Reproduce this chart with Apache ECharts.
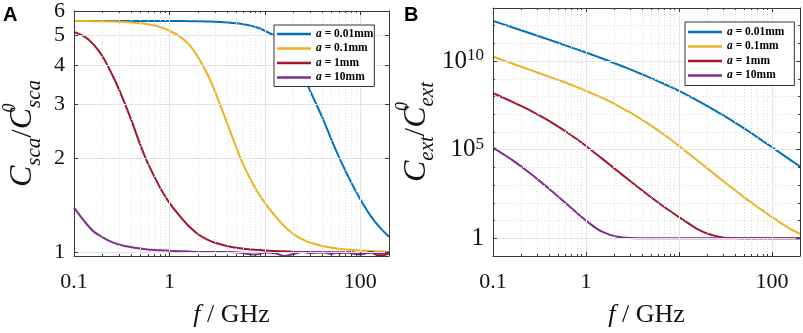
<!DOCTYPE html>
<html>
<head>
<meta charset="utf-8">
<script src="https://cdn.jsdelivr.net/npm/echarts@6/dist/echarts.min.js"></script>
<style>
  html, body { margin: 0; padding: 0; background: #fff; }
  #chart { width: 803px; height: 333px; }
</style>
</head>
<body>
<div id="chart"></div>
<script>
// frequencies (GHz), shared by every curve
const freq = [0.1, 0.13, 0.16, 0.2, 0.25, 0.3, 0.4, 0.5, 0.6, 0.8,
    1, 1.3, 1.6, 2, 2.5, 3, 4, 5, 6, 8,
    10, 13, 16, 20, 25, 30, 40, 50, 60, 80,
    100, 130, 160, 200];
const names = ["a = 0.01mm", "a = 0.1mm", "a = 1mm", "a = 10mm"];
const colors = ["#0072BD", "#EDB120", "#A2142F", "#7E2F8E"];

// panel A: Csca / C0sca
const scaBlue = [5.57, 5.57, 5.57, 5.57, 5.57, 5.57, 5.57, 5.57, 5.57, 5.57,
    5.57, 5.57, 5.56, 5.56, 5.55, 5.54, 5.51, 5.48, 5.44, 5.33,
    5.18, 4.95, 4.68, 4.25, 3.75, 3.3, 2.72, 2.3, 2.02, 1.68,
    1.48, 1.3, 1.2, 1.12];
const scaYellow = [5.57, 5.57, 5.56, 5.56, 5.55, 5.54, 5.51, 5.48, 5.44, 5.33,
    5.18, 4.95, 4.68, 4.25, 3.75, 3.3, 2.62, 2.18, 1.9, 1.6,
    1.44, 1.3, 1.21, 1.14, 1.095, 1.07, 1.045, 1.032, 1.024, 1.016,
    1.011, 1.007, 1.004, 1.0];
const scaRed = [5.13, 4.95, 4.68, 4.27, 3.75, 3.32, 2.66, 2.2, 1.92, 1.61,
    1.44, 1.3, 1.21, 1.14, 1.095, 1.07, 1.045, 1.032, 1.024, 1.016,
    1.011, 1.006, 1.004, 1.0, 1.0, 1.0, 0.995, 1.0, 0.99, 1.0,
    0.985, 0.995, 0.97, 0.99];
const scaPurple = [1.39, 1.25, 1.165, 1.115, 1.075, 1.055, 1.035, 1.025, 1.018, 1.012,
    1.008, 1.005, 1.003, 1.0, 1.0, 1.0, 1.0, 0.998, 0.99, 0.98,
    0.995, 0.99, 0.97, 0.985, 1.0, 0.99, 1.0, 0.985, 1.0, 0.99,
    0.98, 1.0, 0.985, 0.995];

// panel B: Cext / C0ext
const extBlue = [1.86e12, 1.19e12, 8.26e11, 5.58e11, 3.77e11, 2.72e11, 1.63e11, 1.09e11, 7.82e10, 4.61e10,
    3.05e10, 1.85e10, 1.24e10, 7.91e9, 5.0e9, 3.41e9, 1.83e9, 1.11e9, 7.26e8, 3.62e8,
    2.07e8, 1.03e8, 5.79e7, 3.03e7, 1.53e7, 8.65e6, 3.4e6, 1.61e6, 8.57e5, 3.08e5,
    1.38e5, 5.33e4, 2.52e4, 1.12e4];
const extYellow = [1.78e10, 1.1e10, 7.4e9, 4.9e9, 3.2e9, 2.3e9, 1.32e9, 8.7e8, 6.2e8, 3.4e8,
    2.1e8, 1.17e8, 7.1e7, 4.0e7, 2.1e7, 1.23e7, 4.9e6, 2.3e6, 1.2e6, 4.0e5,
    1.62e5, 5.5e4, 2.3e4, 9100, 3550, 1660, 510, 209, 102, 35,
    15.5, 6.3, 3.2, 1.78];
const extRed = [1.58e8, 8.5e7, 5.13e7, 2.95e7, 1.66e7, 1.0e7, 4.27e6, 2.04e6, 1.1e6, 3.89e5,
    1.62e5, 5.5e4, 2.34e4, 9120, 3550, 1660, 513, 209, 102, 34.7,
    15.5, 6.31, 3.16, 1.86, 1.32, 1.12, 1.035, 1.01, 1, 1,
    1, 1, 1, 1];
const extPurple = [1.32e5, 5.5e4, 2.69e4, 1.15e4, 4680, 2190, 631, 229, 100, 26.9,
    10, 3.55, 2.0, 1.35, 1.12, 1.047, 1.014, 1, 1, 1,
    1, 1, 1, 1, 1, 1, 1, 1, 1, 1,
    1, 1, 1, 1];

// ticks
const xMajor = [0.1, 1, 10, 100];
const xLabels = ["0.1", "1", "", "100"];
const xMinor = [0.2, 0.3, 0.4, 0.5, 0.6, 0.7, 0.8, 0.9, 2, 3, 4, 5, 6, 7, 8, 9, 20, 30, 40, 50, 60, 70, 80, 90];
const scaTicks = [1, 2, 3, 4, 5, 6];
const extTicks = [1, 1e5, 1e10];
const extMinor = [0.1, 10, 100, 1000, 1e4, 1e6, 1e7, 1e8, 1e9, 1e11, 1e12];

const lg = Math.log10;
const serif = "Liberation Serif";

function axisSet(dim, gridIndex, min, max, major, minor, fmt, labelOpt) {
    const sides = dim === "x" ? ["bottom", "top"] : ["left", "right"];
    const base = {
        type: "value", gridIndex: gridIndex, min: min, max: max,
        axisLine: { show: true, onZero: false, lineStyle: { color: "#3a3a3a", width: 1 } },
        axisLabel: { show: false },
        splitLine: { show: false },
        z: 5
    };
    const list = [];
    sides.forEach((side, k) => {
        list.push(Object.assign({}, base, {
            position: side,
            axisTick: { show: true, inside: true, length: 4, lineStyle: { color: "#3a3a3a" }, customValues: major.map(lg) },
            axisLabel: k === 0 ? Object.assign({
                show: true, customValues: major.map(lg), formatter: fmt,
                color: "#111", fontFamily: serif, fontSize: 22,
                showMinLabel: true, showMaxLabel: true, hideOverlap: false
            }, labelOpt) : { show: false },
            splitLine: k === 0 ? { show: true, lineStyle: { color: "#e4e4e4", width: 1 } } : { show: false }
        }));
    });
    if (minor.length) {
        sides.forEach((side, k) => {
            list.push(Object.assign({}, base, {
                position: side,
                axisLine: { show: false, onZero: false },
                axisTick: { show: true, inside: true, length: 2, lineStyle: { color: "#3a3a3a" }, customValues: minor.map(lg) },
                splitLine: k === 0 ? { show: true, lineStyle: { color: "#dcdcdc", type: [1, 2], width: 1 } } : { show: false }
            }));
        });
    }
    return list;
}

const xFmt = (v) => {
    const i = xMajor.findIndex((m) => Math.abs(lg(m) - v) < 1e-6);
    return i >= 0 ? xLabels[i] : "";
};
const scaFmt = (v) => String(Math.round(Math.pow(10, v)));
const extFmt = (v) => {
    const e = Math.round(v);
    return e === 0 ? "{b|1}" : "{b|10}{s|" + e + "}";
};

const xAxA = axisSet("x", 0, -1, lg(200), xMajor, xMinor, xFmt, { margin: 15 });
const yAxA = axisSet("y", 0, lg(0.97), lg(6), scaTicks, [], scaFmt, { margin: 9 });
const xAxB = axisSet("x", 1, -1, lg(200), xMajor, xMinor, xFmt, { margin: 15 });
const yAxB = axisSet("y", 1, -1, 13, extTicks, extMinor, extFmt, {
    margin: 9,
    rich: {
        b: { fontFamily: serif, fontSize: 25, lineHeight: 28, color: "#111" },
        s: { fontFamily: serif, fontSize: 17, lineHeight: 15, verticalAlign: "top", color: "#111" }
    }
});

function yTitle(sub) {
    return {
        name: "{c|C}{s|" + sub + "}{d|/}{c|C}{p|0}{s|" + sub + "}",
        nameLocation: "middle",
        nameRotate: 90,
        nameGap: 29,
        nameTextStyle: {
            rich: {
                c: { fontFamily: serif, fontStyle: "italic", fontSize: 32, lineHeight: 44, color: "#111" },
                s: { fontFamily: serif, fontStyle: "italic", fontSize: 21, lineHeight: 20, verticalAlign: "bottom", color: "#111" },
                p: { fontFamily: serif, fontStyle: "italic", fontSize: 18, lineHeight: 19, verticalAlign: "top", width: 0, color: "#111" },
                d: { fontFamily: serif, fontSize: 30, lineHeight: 44, color: "#111" }
            }
        }
    };
}
const xTitle = {
    name: "{f|f}{g| / GHz}",
    nameLocation: "middle",
    nameGap: 46,
    nameTextStyle: {
        rich: {
            f: { fontFamily: serif, fontStyle: "italic", fontSize: 26, color: "#111" },
            g: { fontFamily: serif, fontSize: 26, color: "#111" }
        }
    }
};
Object.assign(xAxA[0], xTitle);
Object.assign(xAxB[0], xTitle);
Object.assign(yAxA[0], yTitle("sca"));
Object.assign(yAxB[0], yTitle("ext"));

const xAxes = xAxA.concat(xAxB);
const yAxes = yAxA.concat(yAxB);
const bIndexX = xAxA.length;
const bIndexY = yAxA.length;

function line(name, color, ys, panel) {
    return {
        name: name, type: "line", color: color,
        xAxisIndex: panel === 0 ? 0 : bIndexX,
        yAxisIndex: panel === 0 ? 0 : bIndexY,
        showSymbol: false, smooth: 0.3,
        lineStyle: { width: 2, color: color },
        data: freq.map((f, i) => [lg(f), lg(ys[i])]),
        z: 3
    };
}

const legendStyle = {
    orient: "vertical", icon: "rect", itemWidth: 34, itemHeight: 2.5, itemGap: 2.5, itemTextGap: 3,
    backgroundColor: "#fff", borderColor: "#333", borderWidth: 1,
    formatter: (n) => "{i|a}{t| = " + n.split(" = ")[1] + "}",
    textStyle: {
        rich: {
            i: { fontFamily: serif, fontStyle: "italic", fontWeight: "bold", fontSize: 11.5, lineHeight: 12, color: "#000" },
            t: { fontFamily: serif, fontWeight: "bold", fontSize: 11.5, lineHeight: 12, color: "#000" }
        }
    },
    data: names, z: 10
};

const chartOption = {
    animation: false,
    backgroundColor: "#fff",
    title: [
        { text: "A", left: 3, top: 5, padding: 0, textStyle: { fontFamily: "Liberation Sans", fontWeight: "bold", fontSize: 20, color: "#000" } },
        { text: "B", left: 404, top: 5, padding: 0, textStyle: { fontFamily: "Liberation Sans", fontWeight: "bold", fontSize: 20, color: "#000" } }
    ],
    grid: [
        { left: 72, top: 9, width: 317, height: 252 },
        { left: 493, top: 8, width: 307, height: 252 }
    ],
    legend: [
        Object.assign({ left: 274, top: 25, padding: [3, 1, 3, 3] }, legendStyle),
        Object.assign({ left: 685, top: 22, padding: [4, 10, 4, 3] }, legendStyle)
    ],
    xAxis: xAxes,
    yAxis: yAxes,
    series: [
        line(names[0], colors[0], scaBlue, 0),
        line(names[1], colors[1], scaYellow, 0),
        line(names[2], colors[2], scaRed, 0),
        line(names[3], colors[3], scaPurple, 0),
        line(names[0], colors[0], extBlue, 1),
        line(names[1], colors[1], extYellow, 1),
        line(names[2], colors[2], extRed, 1),
        line(names[3], colors[3], extPurple, 1)
    ]
};

const myChart = echarts.init(document.getElementById("chart"));
myChart.setOption(chartOption);
</script>
</body>
</html>
